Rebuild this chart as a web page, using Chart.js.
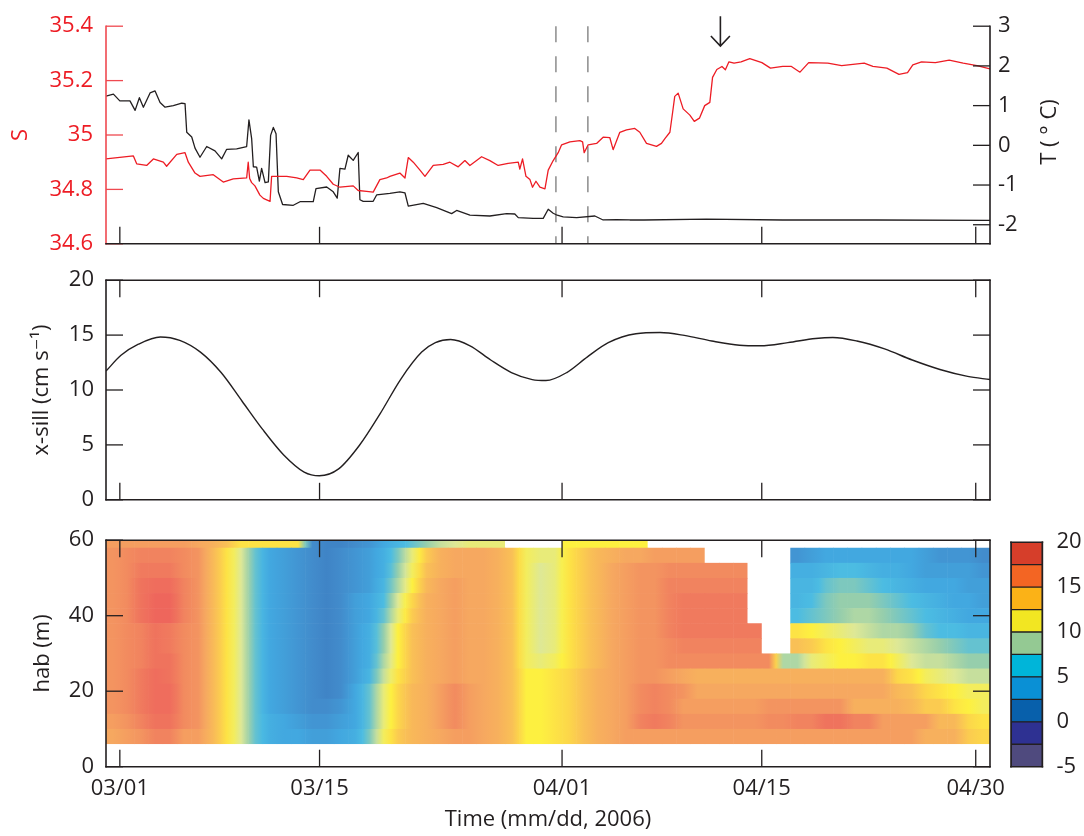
<!DOCTYPE html>
<html>
<head>
<meta charset="utf-8">
<script src="https://cdn.jsdelivr.net/npm/chart.js@4.4.0/dist/chart.umd.min.js"></script>
<style>
  body { margin: 0; background: #fff; }
  #wrap { position: relative; width: 1084px; height: 836px; overflow: hidden; }
  canvas { position: absolute; }
</style>
</head>
<body>
<div id="wrap">
  <canvas id="top" width="1084" height="270" style="left:0;top:0"></canvas>
  <canvas id="mid" width="1084" height="270" style="left:0;top:255px"></canvas>
  <canvas id="bot" width="1084" height="321" style="left:0;top:515px"></canvas>
  <canvas id="cbar" width="89" height="321" style="left:995px;top:515px"></canvas>
</div>
<script>
// time is in days after 1 March 2006
const tickDays = [0, 14, 31, 45, 60];
const tickLabels = ['03/01', '03/15', '04/01', '04/15', '04/30'];
const dayMin = -0.97, dayMax = 61.0;

const sTicks = [34.6, 34.8, 35, 35.2, 35.4];
const tTicks = [-2, -1, 0, 1, 2, 3];
const uTicks = [0, 5, 10, 15, 20];
const habTicks = [0, 20, 40, 60];
const cbarTicks = [-5, 0, 5, 10, 15, 20];

// salinity (red)
const sDays = [-0.97, 0.95, 1.18, 1.88, 2.35, 3.05, 3.28, 3.99, 4.57, 4.80,
  5.27, 5.62, 6.55, 7.25, 7.95, 8.89, 9.00, 9.10, 9.24, 9.47,
  9.82, 10.06, 10.53, 10.64, 10.88, 11.70, 12.40, 12.86, 13.33, 14.03,
  14.50, 14.96, 15.43, 16.36, 16.71, 17.30, 17.76, 18.23, 18.70, 18.93,
  19.63, 19.99, 20.22, 20.57, 21.04, 21.39, 21.97, 22.67, 23.14, 23.72,
  24.19, 24.54, 25.36, 25.94, 26.52, 27.22, 27.93, 28.04, 28.23, 28.47,
  28.75, 28.93, 29.17, 29.45, 29.80, 30.03, 30.38, 30.73, 30.97, 31.55,
  32.25, 32.44, 32.55, 32.83, 33.42, 33.88, 34.35, 34.58, 35.05, 35.52,
  36.10, 36.45, 36.92, 37.62, 37.97, 38.21, 38.56, 38.74, 38.90, 39.14,
  39.49, 39.96, 40.27, 40.63, 41.00, 41.36, 41.55, 41.85, 42.21, 42.45,
  42.70, 43.06, 43.55, 44.16, 45.01, 45.61, 46.47, 47.08, 47.68, 48.29,
  49.63, 50.60, 52.18, 52.79, 53.77, 54.62, 55.22, 55.59, 56.20, 57.17,
  58.14, 59.12, 60.09, 61.00];
const sVals = [34.912, 34.923, 34.894, 34.888, 34.912, 34.900, 34.885, 34.929, 34.935, 34.900,
  34.860, 34.848, 34.854, 34.827, 34.839, 34.842, 34.900, 34.840, 34.825, 34.813,
  34.779, 34.767, 34.756, 34.848, 34.848, 34.848, 34.842, 34.836, 34.871, 34.871,
  34.848, 34.819, 34.808, 34.813, 34.796, 34.793, 34.790, 34.836, 34.842, 34.848,
  34.860, 34.842, 34.917, 34.900, 34.871, 34.848, 34.888, 34.892, 34.900, 34.883,
  34.906, 34.888, 34.920, 34.906, 34.888, 34.896, 34.900, 34.875, 34.912, 34.848,
  34.836, 34.808, 34.830, 34.808, 34.802, 34.871, 34.906, 34.935, 34.964, 34.975,
  34.979, 34.975, 34.935, 34.964, 34.969, 34.992, 34.990, 34.946, 35.010, 35.019,
  35.024, 35.010, 34.969, 34.958, 34.969, 34.987, 35.010, 35.079, 35.142, 35.154,
  35.096, 35.073, 35.050, 35.062, 35.108, 35.120, 35.212, 35.241, 35.252, 35.240,
  35.269, 35.264, 35.269, 35.281, 35.266, 35.246, 35.252, 35.252, 35.231, 35.266,
  35.264, 35.255, 35.264, 35.252, 35.246, 35.223, 35.229, 35.258, 35.269, 35.266,
  35.275, 35.264, 35.255, 35.243];

// temperature (black)
const tDays = [-0.97, -0.45, 0.00, 0.71, 1.07, 1.37, 1.65, 2.12, 2.47, 2.82,
  3.17, 3.75, 4.34, 4.57, 4.69, 5.04, 5.27, 5.62, 6.09, 6.67,
  7.14, 7.49, 8.19, 8.89, 9.05, 9.24, 9.36, 9.59, 9.78, 9.94,
  10.18, 10.41, 10.57, 10.76, 10.95, 11.11, 11.41, 12.16, 12.63, 13.56,
  13.75, 14.50, 14.96, 15.24, 15.43, 15.78, 16.01, 16.36, 16.71, 16.83,
  17.06, 17.76, 18.00, 18.93, 19.63, 19.99, 20.22, 21.27, 22.21, 23.26,
  23.61, 24.54, 25.94, 27.11, 27.69, 27.93, 28.98, 29.68, 30.03, 30.38,
  30.66, 31.08, 32.02, 33.30, 33.88, 34.82, 35.75, 36.74, 41.12, 46.47,
  53.00, 61.00];
const tVals = [1.24, 1.29, 1.12, 1.12, 0.88, 1.20, 0.96, 1.32, 1.37, 1.08,
  0.96, 1.00, 1.06, 1.05, 0.33, 0.21, -0.07, -0.30, -0.03, -0.14,
  -0.34, -0.10, -0.09, -0.03, 0.64, 0.17, -0.54, -0.55, -0.90, -0.58,
  -0.94, -0.92, 0.25, 0.45, 0.29, -1.17, -1.49, -1.51, -1.42, -1.42,
  -1.09, -1.05, -1.17, -1.33, -0.58, -0.60, -0.25, -0.38, -0.18, -1.37,
  -1.41, -1.41, -1.25, -1.21, -1.17, -1.20, -1.53, -1.46, -1.57, -1.72,
  -1.64, -1.76, -1.78, -1.72, -1.73, -1.82, -1.84, -1.84, -1.61, -1.71,
  -1.76, -1.80, -1.82, -1.78, -1.88, -1.87, -1.88, -1.88, -1.86, -1.88,
  -1.88, -1.89];

// along-sill velocity
const uDays = [-0.97, 0.08, 1.30, 2.84, 4.20, 5.65, 7.10, 8.56, 10.01, 11.47,
  12.92, 13.99, 15.34, 16.80, 18.25, 19.70, 21.16, 22.12, 23.19, 24.55,
  26.00, 27.45, 28.91, 29.87, 31.33, 32.78, 34.24, 36.18, 37.87, 39.57,
  41.50, 43.44, 44.90, 46.83, 48.77, 49.98, 51.67, 53.61, 55.55, 57.49,
  59.43, 61.00];
const uVals = [11.72, 13.16, 14.17, 14.83, 14.52, 13.45, 11.59, 9.00, 6.41, 4.11,
  2.53, 2.19, 2.82, 4.97, 7.85, 11.00, 13.45, 14.31, 14.60, 14.03,
  12.73, 11.59, 10.95, 10.86, 11.59, 13.02, 14.31, 15.12, 15.23, 14.97,
  14.46, 14.08, 14.03, 14.31, 14.69, 14.78, 14.46, 13.74, 12.73, 11.87,
  11.24, 10.95];

const dashDays = [30.57, 32.81];
const arrowDay = 42.1, arrowFrom = 35.437, arrowTo = 35.327;

// velocity section: one column per day, rows every 4 m above bottom
const _ = null;
const heatDays = [-0.5, 0.5, 1.5, 2.5, 3.5, 4.5, 5.5, 6.5, 7.5, 8.5, 9.5, 10.5, 11.5, 12.5, 13.5,
  14.5, 15.5, 16.5, 17.5, 18.5, 19.5, 20.5, 21.5, 22.5, 23.5, 24.5, 25.5, 26.5, 27.5, 28.5,
  29.5, 30.5, 31.5, 32.5, 33.5, 34.5, 35.5, 36.5, 37.5, 38.5, 39.5, 40.5, 41.5, 42.5, 43.5,
  44.5, 45.5, 46.5, 47.5, 48.5, 49.5, 50.5, 51.5, 52.5, 53.5, 54.5, 55.5, 56.5, 57.5, 58.5,
  59.5, 60.5];
const heatHab = [60, 56, 52, 48, 44, 40, 36, 32, 28, 24, 20, 16, 12, 8];
const heatRows = [
  [15,15,15,15,15,15,14.5,14,13,11.5, 11.5,11.5,11.5,11.5,3.5,3,3,3.5,4,5,
   6,7,8,9,9.5,10,10,10,_,_, _,_,11,11,11,11,11,11,_,_,
   _,_,_,_,_,_,_,_,_,_, _,_,_,_,_,_,_,_,_,_, _,_],
  [15.5,16,16.5,16.5,16.5,16,15.5,13.5,11.5,9.5, 7,5,4.5,4,3.5,3,3.5,4,4.5,5.5,
   7.5,10,12.5,14,14.5,14.5,14.5,14,13,10.5, 10,10,11.5,12.5,13.5,14,14.5,14.5,15,15,
   15,15,_,_,_,_,_,_,4,4.5, 5,5,5,5,5,5,5,4.5,4,4, 4,3.5],
  [15.5,16,17,17,17,16,15.5,13.5,11.5,9.5, 7,5,4.5,4,3.5,3,3.5,4,4.5,5.5,
   8,10.5,13,14,14.5,14.5,14.5,14,13,10.5, 9.5,10,11.5,12.5,13.5,14.5,15,15.5,15.5,16,
   16,16,16,16,16,_,_,_,5.5,5.5, 6,6.5,6.5,6,5.5,5.5,5,4.5,4.5,4.5, 4.5,4],
  [15.5,16,17.5,18,18,16.5,15.5,13.5,11.5,9.5, 7,5,4.5,4,3.5,3,3.5,4,4.5,6,
   8.5,11,13.5,14.5,15,14.5,14.5,14,13,10.5, 9.5,10,11.5,12.5,13.5,14.5,15,15.5,15.5,16.5,
   16.5,16.5,16.5,16.5,16.5,_,_,_,6,6, 7,7.5,7.5,7,6.5,6,5.5,5,5,5, 4.5,4.5],
  [15.5,16,17.5,18.5,18.5,16.5,15.5,13.5,11.5,9.5, 7,5,4.5,4,3.5,3,3.5,4.5,5,6.5,
   9.5,12,14,14.5,15,14.5,14.5,14,13,10.5, 9.5,10,11.5,12.5,13.5,14.5,15,15.5,15.5,16.5,
   17,17,17,17,17,_,_,_,6,6.5, 7.5,8,8,8,7.5,7,6.5,6,5.5,5, 5,4.5],
  [15.5,16,17.5,18.5,18.5,16.5,15.5,13.5,11.5,9.5, 7,5,4.5,4,3.5,3,3.5,4.5,5,7,
   10,12.5,14,14.5,15,14.5,14.5,14,13,10.5, 9.5,10,11.5,12.5,13.5,14.5,15,15.5,15.5,16.5,
   17,17,17,17,17,_,_,_,6.5,7, 7.5,8,8.5,8.5,8,7.5,7,6.5,6,5.5, 5,5],
  [15.5,16,16.5,17.5,17,16,15.5,13.5,11.5,9.5, 7,5,4.5,4,3.5,3,3.5,4.5,5.5,8,
   11,13,14,14.5,15,14.5,14.5,14,13,10.5, 9.5,10,11.5,12.5,13.5,14.5,15,15.5,15.5,16.5,
   17,17,17,17,17,17,_,_,11.5,11, 10.5,10,9.5,9,8.5,8.5,8,7,6.5,6.5, 6,6],
  [15.5,16,16.5,17.5,17,16,15.5,13.5,11.5,9.5, 7,5,4.5,4,3.5,3,3.5,4.5,5.5,8,
   11,13,14,14.5,15,14.5,14.5,14,13,10.5, 9.5,10,11.5,12.5,13.5,14.5,15,15.5,15.5,16,
   16.5,16.5,16.5,16.5,16.5,16.5,_,_,13,12.5, 11.5,11,10.5,10,10,9.5,9,8.5,8,7.5, 7,7],
  [15.5,16,16.5,17.5,17.5,16,15.5,13.5,11.5,9.5, 7,5,4.5,4,3.5,3,3.5,4.5,5.5,8.5,
   11,13,14,14.5,15,14.5,14.5,14,13,10.5, 10,10.5,11.5,12.5,13.5,14.5,15,15.5,15.5,16,
   16,16,16,16,16,16,16,8.5,8.5,10, 10.5,11,11,11.5,11.5,10.5,9.5,9,9,8.5, 8,8],
  [15.5,16,17,18,17.5,16,15.5,13.5,11.5,9.5, 7,5,4.5,4,3.5,3,3.5,4.5,6,9,
   11.5,13,14,14.5,15,14.5,14.5,14,13,11, 11,11.5,12,13,14,14.5,15,15.5,15.5,15,
   14.5,14,14,14,14,14,14,14,14,14, 14,14,14,14,14,12,11.5,10.5,10,9.5, 9,9],
  [15.5,16,17,18,18,16,15.5,13.5,11.5,9.5, 7,5,4.5,4,3.5,3,3.5,5,7,10,
   12,13.5,14,15,16,15,14.5,14,13,11, 11,11.5,12,13,14,14.5,15,16,16.5,16,
   15.5,14.5,14.5,14.5,14.5,14.5,14.5,14.5,14.5,14.5, 14.5,14.5,14.5,14.5,14.5,13.5,13,12,11.5,11, 10.5,10.5],
  [15.5,16,17,18,18,16,15.5,13.5,11.5,9.5, 7,5,4.5,4,3.5,3.5,4,5,7,10,
   12,13.5,14,15,16,15,14.5,14,13,11, 11,11.5,12,13,14,14.5,15,16,16.5,16,
   15,15,15,15,15,15,15.5,15.5,15.5,15.5, 15.5,15.5,14,14,14,14,13.5,12.5,12.5,11.5, 11,10.5],
  [15,15.5,16.5,17.5,17.5,16,15.5,13.5,11.5,9.5, 7,5.5,5,4.5,4,4,4.5,5,7,10,
   12,13.5,14,15,16,15,14.5,14,13,11, 11,11.5,12,13,14,14.5,15,16.5,17,16.5,
   15.5,15.5,15.5,15.5,15.5,15.5,16,16,16.5,16.5, 17.5,17.5,16.5,16.5,15,15,15,15,13.5,13.5, 12,11.5],
  [14.5,15,15.5,16.5,16.5,15,15,13.5,11.5,9.5, 7,5.5,5,5,4.5,4.5,5,5.5,7.5,10.5,
   12.5,13.5,14,14.5,15,15,14.5,14,13,11, 11,11.5,12,13,14,14.5,15,15,15,15,
   15,15,15,15,15,15,15,15,15,15, 15,15,15,15,15,15,15,14,14,14, 12.5,12]
];

// colour scale of the velocity section
const cbarEdges = [-5, -2.5, 0, 2.5, 5, 7.5, 10, 12.5, 15, 17.5, 20];
const cbarColors = ['#4f4a7e', '#2e3192', '#0860ab', '#0a90d5', '#00b5d9',
  '#94c993', '#f2e622', '#fbb217', '#f36523', '#d63e2a'];
const heatStops = [
  [2.5, [60, 124, 192]], [3.5, [66, 140, 204]], [5, [66, 168, 224]],
  [6.5, [76, 188, 226]], [8, [150, 206, 172]], [9.5, [222, 232, 150]],
  [11, [253, 240, 64]], [12, [252, 214, 74]], [13, [249, 192, 86]],
  [14.5, [246, 168, 96]], [15.5, [243, 148, 96]], [17, [240, 122, 94]],
  [18.5, [238, 102, 92]]
];

const tTitle = 'T ( \u00b0 C)';
const red = '#ed1c24', redAxis = '#ef4950', ink = '#231f20';

Chart.defaults.font.family = "'Open Sans', 'DejaVu Sans', sans-serif";
Chart.defaults.font.size = 22;
Chart.defaults.color = ink;
Chart.defaults.animation = false;

function heatColor(v) {
  const st = heatStops;
  if (v <= st[0][0]) return st[0][1];
  for (let i = 1; i < st.length; i++) {
    if (v <= st[i][0]) {
      const f = (v - st[i - 1][0]) / (st[i][0] - st[i - 1][0]);
      const a = st[i - 1][1], b = st[i][1];
      return a.map((c, k) => Math.round(c + (b[k] - c) * f));
    }
  }
  return st[st.length - 1][1];
}
const rgb = c => 'rgb(' + c[0] + ',' + c[1] + ',' + c[2] + ')';

// inward tick marks and axis lines, matlab style
const axesIn = {
  id: 'axesIn',
  afterDraw(chart, args, o) {
    const {ctx, chartArea: a} = chart;
    const L = 17;
    ctx.save();
    ctx.lineWidth = 1.3;
    (o.marks || []).forEach(m => {
      const s = chart.scales[m.scale];
      ctx.strokeStyle = m.color || ink;
      s.ticks.forEach(t => {
        const p = s.getPixelForValue(t.value);
        ctx.beginPath();
        if (m.side === 'bottom') { ctx.moveTo(p, a.bottom); ctx.lineTo(p, a.bottom - L); }
        else if (m.side === 'top') { ctx.moveTo(p, a.top); ctx.lineTo(p, a.top + L); }
        else if (m.side === 'left') { ctx.moveTo(a.left, p); ctx.lineTo(a.left + L, p); }
        else { ctx.moveTo(a.right, p); ctx.lineTo(a.right - L, p); }
        ctx.stroke();
      });
    });
    ctx.lineWidth = 1.6;
    ctx.lineCap = 'square';
    (o.edges || []).forEach(e => {
      ctx.strokeStyle = e.color || ink;
      ctx.beginPath();
      if (e.side === 'left') { ctx.moveTo(a.left, a.top); ctx.lineTo(a.left, a.bottom); }
      if (e.side === 'right') { ctx.moveTo(a.right, a.top); ctx.lineTo(a.right, a.bottom); }
      if (e.side === 'top') { ctx.moveTo(a.left, a.top); ctx.lineTo(a.right, a.top); }
      if (e.side === 'bottom') { ctx.moveTo(a.left, a.bottom); ctx.lineTo(a.right, a.bottom); }
      ctx.stroke();
    });
    ctx.restore();
  }
};

// dashed markers, arrow and the right hand title of the top panel
const topMarks = {
  id: 'topMarks',
  beforeDatasetsDraw(chart) {
    const {ctx, chartArea: a, scales: {x}} = chart;
    ctx.save();
    ctx.strokeStyle = '#8c8c8c';
    ctx.lineWidth = 1.5;
    ctx.setLineDash([16, 14]);
    dashDays.forEach(d => {
      const px = x.getPixelForValue(d);
      ctx.beginPath(); ctx.moveTo(px, a.top); ctx.lineTo(px, a.bottom); ctx.stroke();
    });
    ctx.restore();
  },
  afterDraw(chart) {
    const {ctx, chartArea: a, scales: {x, y, yT}} = chart;
    ctx.save();
    const ax = x.getPixelForValue(arrowDay);
    const y0 = y.getPixelForValue(arrowFrom), y1 = y.getPixelForValue(arrowTo);
    ctx.strokeStyle = ink;
    ctx.lineWidth = 1.6;
    ctx.beginPath();
    ctx.moveTo(ax, y0); ctx.lineTo(ax, y1);
    ctx.moveTo(ax - 9.5, y1 - 10); ctx.lineTo(ax, y1); ctx.lineTo(ax + 9.5, y1 - 10);
    ctx.stroke();
    ctx.translate(yT.right - 34, (a.top + a.bottom) / 2 - 3);
    ctx.rotate(-Math.PI / 2);
    ctx.font = "22px 'Open Sans', 'DejaVu Sans', sans-serif";
    ctx.fillStyle = ink;
    ctx.textAlign = 'center';
    ctx.textBaseline = 'middle';
    ctx.fillText(tTitle, 0, 0);
    ctx.restore();
  }
};

// colour cells of the velocity section
const heatPlugin = {
  id: 'heat',
  beforeDatasetsDraw(chart) {
    const {ctx, chartArea: a, scales: {x, y}} = chart;
    ctx.save();
    ctx.beginPath(); ctx.rect(a.left, a.top, a.width, a.height); ctx.clip();
    heatRows.forEach((row, r) => {
      const y0 = y.getPixelForValue(Math.min(heatHab[r] + 2, 60));
      const y1 = y.getPixelForValue(heatHab[r] - 2);
      row.forEach((v, c) => {
        if (v == null) return;
        const x0 = x.getPixelForValue(heatDays[c] - 0.5);
        const x1 = x.getPixelForValue(heatDays[c] + 0.5);
        const vl = row[c - 1] != null ? (row[c - 1] + v) / 2 : v;
        const vr = row[c + 1] != null ? (row[c + 1] + v) / 2 : v;
        const g = ctx.createLinearGradient(x0, 0, x1, 0);
        g.addColorStop(0, rgb(heatColor(vl)));
        g.addColorStop(0.5, rgb(heatColor(v)));
        g.addColorStop(1, rgb(heatColor(vr)));
        ctx.fillStyle = g;
        const wx = row[c + 1] != null ? 0.6 : 0;
        const hy = r < heatRows.length - 1 && heatRows[r + 1][c] != null ? 0.6 : 0;
        ctx.fillRect(x0, y0, x1 - x0 + wx, y1 - y0 + hy);
      });
    });
    ctx.restore();
  }
};

const fixW = w => s => { s.width = w; };
const fixH = h => s => { s.height = h; };
const setTicks = list => s => { s.ticks = list.map(v => ({value: v})); };
const noGrid = {display: false, drawTicks: false};
const noBorder = {display: false};

function timeScale(h, labels) {
  return {
    type: 'linear', min: dayMin, max: dayMax,
    afterBuildTicks: setTicks(tickDays),
    afterFit: fixH(h),
    grid: noGrid, border: noBorder,
    ticks: {display: labels, padding: 9, maxRotation: 0, autoSkip: false,
      callback: (v, i) => tickLabels[i]}
  };
}
const pts = (xs, ys) => xs.map((d, i) => ({x: d, y: ys[i]}));
const base = {
  responsive: false,
  events: [],
  plugins: {legend: {display: false}, tooltip: {enabled: false}}
};

new Chart(document.getElementById('top'), {
  type: 'scatter',
  data: {
    datasets: [
      {data: pts(sDays, sVals), yAxisID: 'y', showLine: true, borderColor: red,
        borderWidth: 1.3, pointRadius: 0, borderJoinStyle: 'round'},
      {data: pts(tDays, tVals), yAxisID: 'yT', showLine: true, borderColor: ink,
        borderWidth: 1.3, pointRadius: 0, borderJoinStyle: 'round'}
    ]
  },
  options: {
    ...base,
    layout: {padding: {top: 17.3, left: 0, right: 0, bottom: 0}},
    scales: {
      x: timeScale(21.7, false),
      y: {
        position: 'left', min: 34.6, max: 35.4,
        afterBuildTicks: setTicks(sTicks), afterFit: fixW(106),
        grid: noGrid, border: noBorder,
        ticks: {color: red, padding: 13, autoSkip: false, callback: v => String(+v.toFixed(1))},
        title: {display: true, text: 'S', color: red, padding: {top: 7.4, bottom: 0}}
      },
      yT: {
        position: 'right', min: -2.48, max: 3,
        afterBuildTicks: setTicks(tTicks), afterFit: fixW(94),
        grid: noGrid, border: noBorder,
        ticks: {padding: 8, autoSkip: false}
      }
    },
    plugins: {
      ...base.plugins,
      axesIn: {
        edges: [{side: 'left', color: redAxis}, {side: 'bottom'}, {side: 'right'}],
        marks: [{scale: 'x', side: 'bottom'}, {scale: 'y', side: 'left', color: redAxis},
          {scale: 'yT', side: 'right'}]
      }
    }
  },
  plugins: [topMarks, axesIn]
});

const boxMarks = {
  edges: [{side: 'left'}, {side: 'bottom'}, {side: 'right'}, {side: 'top'}],
  marks: [{scale: 'x', side: 'bottom'}, {scale: 'x', side: 'top'},
    {scale: 'y', side: 'left'}, {scale: 'y', side: 'right'}]
};

new Chart(document.getElementById('mid'), {
  type: 'scatter',
  data: {
    datasets: [{data: pts(uDays, uVals), showLine: true, borderColor: ink, borderWidth: 1.4,
      pointRadius: 0, cubicInterpolationMode: 'monotone'}]
  },
  options: {
    ...base,
    layout: {padding: {top: 20.7, left: 0, right: 94, bottom: 0}},
    scales: {
      x: timeScale(17.3, false),
      y: {
        min: 0, max: 20,
        afterBuildTicks: setTicks(uTicks), afterFit: fixW(106),
        grid: noGrid, border: noBorder,
        ticks: {padding: 12, autoSkip: false},
        title: {display: true, text: 'x-sill (cm s\u207b\u00b9)', padding: {top: 28.3, bottom: 0}}
      }
    },
    plugins: {...base.plugins, axesIn: boxMarks}
  },
  plugins: [axesIn]
});

new Chart(document.getElementById('bot'), {
  type: 'scatter',
  data: {datasets: []},
  options: {
    ...base,
    layout: {padding: {top: 20, left: 0, right: 94, bottom: 0}},
    scales: {
      x: {
        ...timeScale(69.3, true),
        title: {display: true, text: 'Time (mm/dd, 2006)', padding: {top: 0, bottom: 3}}
      },
      y: {
        min: 0, max: 60,
        afterBuildTicks: setTicks(habTicks), afterFit: fixW(106),
        grid: noGrid, border: noBorder,
        ticks: {padding: 12, autoSkip: false},
        title: {display: true, text: 'hab (m)', padding: {top: 29.8, bottom: 0}}
      }
    },
    plugins: {...base.plugins, axesIn: boxMarks}
  },
  plugins: [heatPlugin, axesIn]
});

new Chart(document.getElementById('cbar'), {
  type: 'bar',
  data: {
    labels: ['v'],
    datasets: cbarColors.map((c, i) => ({
      data: [[cbarEdges[i], cbarEdges[i + 1]]],
      backgroundColor: c, borderColor: ink, borderWidth: 1, borderSkipped: false,
      grouped: false, barPercentage: 1, categoryPercentage: 1
    }))
  },
  options: {
    ...base,
    layout: {padding: {top: 20, left: 16, right: 0, bottom: 69.3}},
    scales: {
      x: {display: false},
      y: {
        position: 'right', min: -5, max: 20,
        afterBuildTicks: setTicks(cbarTicks), afterFit: fixW(41.6),
        grid: noGrid, border: noBorder,
        ticks: {padding: 14, autoSkip: false}
      }
    },
    plugins: {...base.plugins,
      axesIn: {edges: [{side: 'left'}, {side: 'bottom'}, {side: 'right'}, {side: 'top'}]}}
  },
  plugins: [axesIn]
});
</script>
</body>
</html>
